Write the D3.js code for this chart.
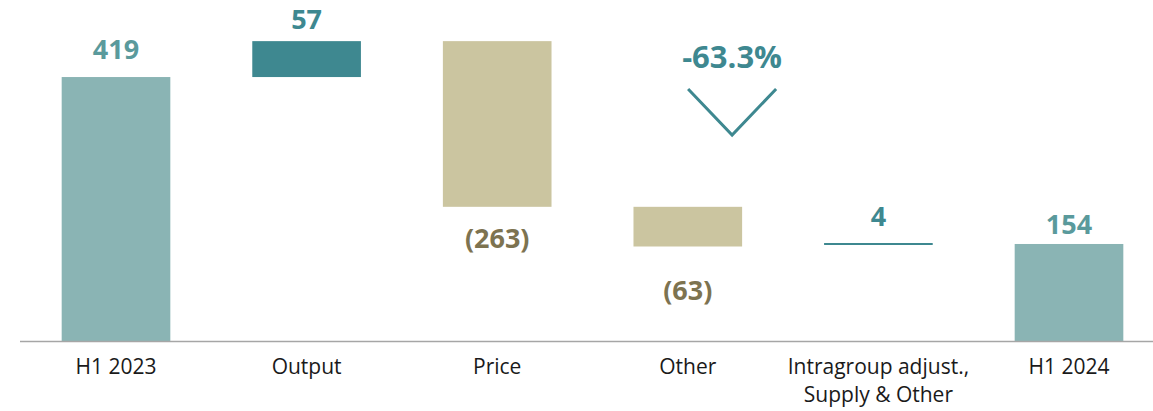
<!DOCTYPE html>
<html>
<head>
<meta charset="utf-8">
<script src="https://cdn.jsdelivr.net/npm/d3@7"></script>
<style>
  body { margin: 0; background: #fff; }
  text { font-family: "Open Sans", "Noto Sans", sans-serif; }
</style>
</head>
<body>
<script>
(function (d3) {
  "use strict";

  /***** Data *****/
  var categories = ["H1 2023", "Output", "Price", "Other", "Intragroup adjust.,|Supply & Other", "H1 2024"];
  var deltas = [419, 57, -263, -63, 4, 154];
  var kinds = ["total", "up", "down", "down", "up", "total"];
  var valueLabels = ["419", "57", "(263)", "(63)", "4", "154"];
  var changeLabel = "-63.3%";

  /***** Configuration *****/
  var width = 1153, height = 411;
  var baseY = 341;

  var colors = { total: "#8ab4b4", up: "#3e8890", down: "#cbc5a0" };
  var labelColors = { total: "#5a9a9c", up: "#3e8890", down: "#7d7350" };

  /***** Scales *****/
  var x = d3.scaleBand().domain(categories).range([20.7, 1164.3]).paddingInner(0.43).paddingOuter(0.215);
  var y = d3.scaleLinear().domain([0, 541.3]).range([baseY, 0]);

  /***** Waterfall steps *****/
  var running = 0;
  var steps = categories.map(function (c, i) {
    var start, end;
    if (kinds[i] === "total") { start = 0; end = deltas[i]; running = deltas[i]; }
    else { start = running; end = running + deltas[i]; running = end; }
    return { cat: c, start: start, end: end, kind: kinds[i], label: valueLabels[i] };
  });

  var svg = d3.select("body").append("svg")
    .attr("width", width).attr("height", height);

  var g = svg.append("g");

  g.selectAll("rect.bar")
    .data(steps.filter(function (d) { return Math.abs(d.end - d.start) > 5; }))
    .enter().append("rect")
    .attr("class", "bar")
    .attr("x", function (d) { return x(d.cat); })
    .attr("width", x.bandwidth())
    .attr("y", function (d) { return y(Math.max(d.start, d.end)); })
    .attr("height", function (d) { return Math.abs(y(d.start) - y(d.end)); })
    .attr("fill", function (d) { return colors[d.kind]; });

  // small steps drawn as a line
  g.selectAll("line.step")
    .data(steps.filter(function (d) { return Math.abs(d.end - d.start) <= 5; }))
    .enter().append("line")
    .attr("x1", function (d) { return x(d.cat); })
    .attr("x2", function (d) { return x(d.cat) + x.bandwidth(); })
    .attr("y1", function (d) { return y(d.end); })
    .attr("y2", function (d) { return y(d.end); })
    .attr("stroke", colors.up)
    .attr("stroke-width", 2);

  // value labels
  var labelOffsets = [-18, -12, 41, 53, -18, -10];
  g.selectAll("text.value")
    .data(steps)
    .enter().append("text")
    .attr("class", "value")
    .attr("x", function (d) { return x(d.cat) + x.bandwidth() / 2; })
    .attr("y", function (d, i) {
      var edge = d.kind === "down" ? y(Math.min(d.start, d.end)) : y(Math.max(d.start, d.end));
      return edge + labelOffsets[i];
    })
    .attr("text-anchor", "middle")
    .attr("font-size", 27)
    .attr("font-weight", "bold")
    .attr("fill", function (d) { return labelColors[d.kind]; })
    .text(function (d) { return d.label; });

  // axis line
  g.append("line")
    .attr("x1", 20).attr("x2", width)
    .attr("y1", baseY + 0.5).attr("y2", baseY + 0.5)
    .attr("stroke", "#a6a6a6").attr("stroke-width", 1.5);

  // category labels
  var cat = g.selectAll("text.cat")
    .data(categories)
    .enter().append("text")
    .attr("class", "cat")
    .attr("x", function (d) { return x(d) + x.bandwidth() / 2; })
    .attr("y", 374)
    .attr("text-anchor", "middle")
    .attr("font-size", 21)
    .attr("fill", "#1a1a1a");
  cat.each(function (d) {
    var parts = d.split("|");
    var t = d3.select(this);
    parts.forEach(function (p, i) {
      t.append("tspan")
        .attr("x", t.attr("x"))
        .attr("dy", i === 0 ? 0 : 28)
        .text(p);
    });
  });

  // overall change annotation
  var cx = (x(categories[3]) + x.bandwidth() / 2 + x(categories[4]) + x.bandwidth() / 2) / 2 - 51;
  g.append("text")
    .attr("x", cx)
    .attr("y", 68)
    .attr("text-anchor", "middle")
    .attr("font-size", 31)
    .attr("font-weight", "bold")
    .attr("fill", "#3e8890")
    .text(changeLabel);

  g.append("path")
    .attr("d", "M" + (cx - 44) + ",89 L" + cx + ",135 L" + (cx + 44) + ",89")
    .attr("fill", "none")
    .attr("stroke", "#3e8890")
    .attr("stroke-width", 3);

})(d3);
</script>
</body>
</html>
